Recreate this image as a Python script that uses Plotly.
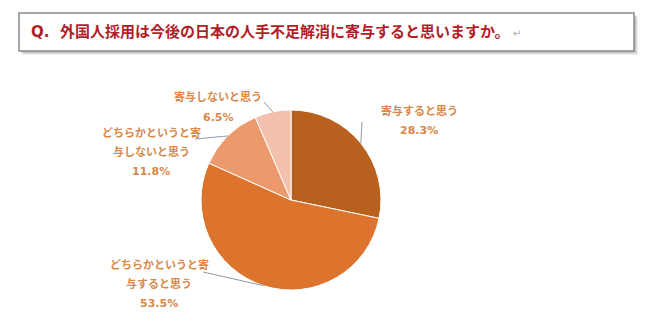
import math
import plotly.graph_objects as go

# ---- data ----
categories = ["寄与すると思う", "どちらかというと寄与すると思う",
              "どちらかというと寄与しないと思う", "寄与しないと思う"]
values = [28.3, 53.5, 11.8, 6.5]
label_lines = [["寄与すると思う", "28.3%"],
               ["どちらかというと寄", "与すると思う", "53.5%"],
               ["どちらかというと寄", "与しないと思う", "11.8%"],
               ["寄与しないと思う", "6.5%"]]
colors = ["#B8611F", "#DC742D", "#EC9A6D", "#F4C0AE"]
title = "Q.  外国人採用は今後の日本の人手不足解消に寄与すると思いますか。"

W, H = 650, 329
FONT = "DejaVu Sans, Noto Sans CJK JP"
LABEL_COLOR = "#D98848"

# layout (pixels)
cx, cy, r = 291, 200, 90
label_pos = [  # (center x, first line y, line step)
    (419, 111, 19),
    (159, 265, 19),
    (151, 133, 19),
    (218, 97, 20),
]
line_start = [(362, 122), (203, 272), (195, 139), (264, 102)]


def px(x):
    return x / W


def py(y):
    return 1 - y / H


fig = go.Figure(go.Pie(
    values=values, labels=categories, sort=False, direction="clockwise",
    rotation=0, textinfo="none", hoverinfo="label+percent",
    marker=dict(colors=colors, line=dict(color="white", width=1)),
    domain=dict(x=[px(cx - r), px(cx + r)], y=[py(cy + r), py(cy - r)]),
    showlegend=False,
))

shapes = []
# title box shadow
for d, a in [(4, 0.06), (3, 0.08), (2, 0.12)]:
    shapes.append(dict(type="rect", xref="paper", yref="paper",
                       x0=px(19 + d), x1=px(634 + d), y0=py(51 + d), y1=py(13 + d),
                       line=dict(width=0), fillcolor=f"rgba(0,0,0,{a})", layer="below"))
shapes.append(dict(type="rect", xref="paper", yref="paper",
                   x0=px(19), x1=px(634), y0=py(51), y1=py(13),
                   line=dict(color="#8A8A8A", width=1.5), fillcolor="white", layer="below"))

# leader lines from label to slice mid-angle on the pie edge
total = sum(values)
cum = 0
for i, v in enumerate(values):
    theta = 2 * math.pi * (cum + v / 2) / total
    ex = cx + r * math.sin(theta)
    ey = cy - r * math.cos(theta)
    sx, sy = line_start[i]
    shapes.append(dict(type="line", xref="paper", yref="paper",
                       x0=px(sx), y0=py(sy), x1=px(ex), y1=py(ey),
                       line=dict(color="#8E9AA6", width=1)))
    cum += v

annotations = [dict(
    text=title + "<span style='color:#A8A8A8;font-size:10px;font-weight:normal'> ↵</span>",
    xref="paper", yref="paper", x=px(29), y=py(32), xanchor="left", yanchor="middle",
    showarrow=False, font=dict(family=FONT, size=15, color="#B01E28", weight="bold"),
)]
for i, lines in enumerate(label_lines):
    lx, ly, step = label_pos[i]
    for j, t in enumerate(lines):
        annotations.append(dict(
            text=t, xref="paper", yref="paper", x=px(lx), y=py(ly + j * step),
            xanchor="center", yanchor="middle", showarrow=False,
            font=dict(family=FONT, size=11, color=LABEL_COLOR, weight="bold"),
        ))

fig.update_layout(
    width=W, height=H, margin=dict(l=0, r=0, t=0, b=0),
    paper_bgcolor="white", plot_bgcolor="white",
    shapes=shapes, annotations=annotations,
)

fig.write_html("out.html")
